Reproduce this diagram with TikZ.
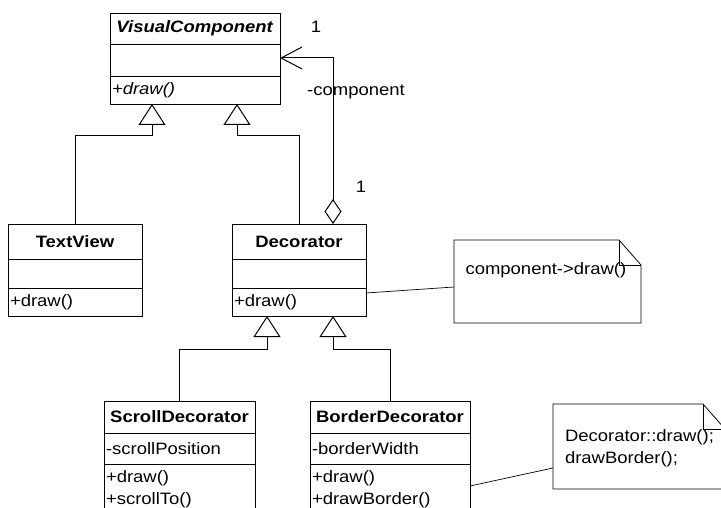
\documentclass[tikz,border=0pt]{standalone}
\usepackage{fontspec}
\setmainfont{Liberation Sans}[FakeStretch=1.12]
\usetikzlibrary{positioning}
\usetikzlibrary{arrows.meta}

\newcommand{\umlsize}{\fontsize{16.5}{21}\selectfont}

\tikzset{
  part/.style    = {draw, line width=0.8pt, outer sep=0pt, inner xsep=2pt, inner ysep=0pt, align=left},
  head/.style    = {part, align=center, font=\umlsize\bfseries},
  inherit/.style = {line width=1pt, -{Triangle[open, length=21pt, width=27pt]}},
  aggr/.style    = {line width=1pt, {Diamond[open, length=25pt, width=17pt]}-{Straight Barb[length=21pt, width=22pt]}},
  notelink/.style= {line width=0.7pt},
  notearea/.style= {outer sep=0pt, inner sep=0pt}
}

\begin{document}
\begin{tikzpicture}[x=1pt, y=-1pt, font=\umlsize]
\clip (0,0) rectangle (721,508);
\fill[white] (0,0) rectangle (721,508);

% classes
\node[head, text width=166pt, minimum height=31pt] (vcH) at (195,28.5) {\textit{VisualComponent}};
\node[part, text width=166pt, minimum height=32pt, below=0pt of vcH] (vcA) {};
\node[part, text width=166pt, minimum height=28pt, below=0pt of vcA] (vcM) {\textit{+draw()}};

\node[head, text width=130pt, minimum height=35pt] (tvH) at (75,241.5) {TextView};
\node[part, text width=130pt, minimum height=29pt, below=0pt of tvH] (tvA) {};
\node[part, text width=130pt, minimum height=28pt, below=0pt of tvA] (tvM) {+draw()};

\node[head, text width=130pt, minimum height=35pt] (decH) at (299,241.5) {Decorator};
\node[part, text width=130pt, minimum height=29pt, below=0pt of decH] (decA) {};
\node[part, text width=130pt, minimum height=28pt, below=0pt of decA] (decM) {+draw()};

\node[head, text width=147pt, minimum height=32pt] (sdH) at (179.5,417) {ScrollDecorator};
\node[part, text width=147pt, minimum height=31pt, below=0pt of sdH] (sdA) {-scrollPosition};
\node[part, text width=147pt, inner ysep=6.5pt, below=0pt of sdA] (sdM) {+draw()\\[1pt]+scrollTo()\\[6pt]\mbox{}};

\node[head, text width=156pt, minimum height=32pt] (bdH) at (390,417) {BorderDecorator};
\node[part, text width=156pt, minimum height=31pt, below=0pt of bdH] (bdA) {-borderWidth};
\node[part, text width=156pt, inner ysep=6.5pt, below=0pt of bdA] (bdM) {+draw()\\[1pt]+drawBorder()\\[6pt]\mbox{}};

% notes
\node[notearea, minimum width=187pt, minimum height=83pt] (n1) at (547.5,281.5) {};
\node[anchor=west] (n1t) at ([xshift=8pt, yshift=11.5pt]n1.west) {component->draw()};
\draw[line width=0.8pt] (n1.north west) -- ([xshift=-22pt]n1.north east) -- ([yshift=-25pt]n1.north east)
      -- (n1.south east) -- (n1.south west) -- cycle;
\draw[line width=0.8pt] ([xshift=-22pt]n1.north east) |- ([yshift=-25pt]n1.north east);

\node[notearea, minimum width=172pt, minimum height=85pt] (n2) at (639,446.5) {};
\node[anchor=west, align=left] (n2t) at ([xshift=8.5pt, yshift=-2pt]n2.west) {Decorator::draw();\\[1pt]drawBorder();};
\draw[line width=0.8pt] (n2.north west) -- ([xshift=-22pt]n2.north east) -- ([yshift=-25pt]n2.north east)
      -- (n2.south east) -- (n2.south west) -- cycle;
\draw[line width=0.8pt] ([xshift=-22pt]n2.north east) |- ([yshift=-25pt]n2.north east);

% generalisations
\coordinate (vcIn1) at ([xshift=-43pt]vcM.south);
\coordinate (vcIn2) at ([xshift=42pt]vcM.south);
\coordinate (decIn1) at ([xshift=-32pt]decM.south);
\coordinate (decIn2) at ([xshift=34pt]decM.south);
\draw[inherit] (tvH.north) |- ([yshift=-32pt]vcIn1) -- (vcIn1);
\draw[inherit] (decH.north) |- ([yshift=-32pt]vcIn2) -- (vcIn2);
\draw[inherit] (sdH.north) |- ([yshift=-33pt]decIn1) -- (decIn1);
\draw[inherit] (bdH.north) |- ([yshift=-33pt]decIn2) -- (decIn2);

% aggregation
\draw[aggr] ([xshift=34pt]decH.north) |- ([yshift=2pt]vcA.east);
\node (m1) at (316,27) {1};
\node (role) at (356,92) {-component};
\node (m2) at (361,187) {1};

% note links
\draw[notelink] ([yshift=-5pt]decM.north east) -- ([yshift=-5.5pt]n1.west);
\draw[notelink] ([yshift=-22pt]bdM.north east) -- ([yshift=-21.5pt]n2.west);
\end{tikzpicture}
\end{document}
